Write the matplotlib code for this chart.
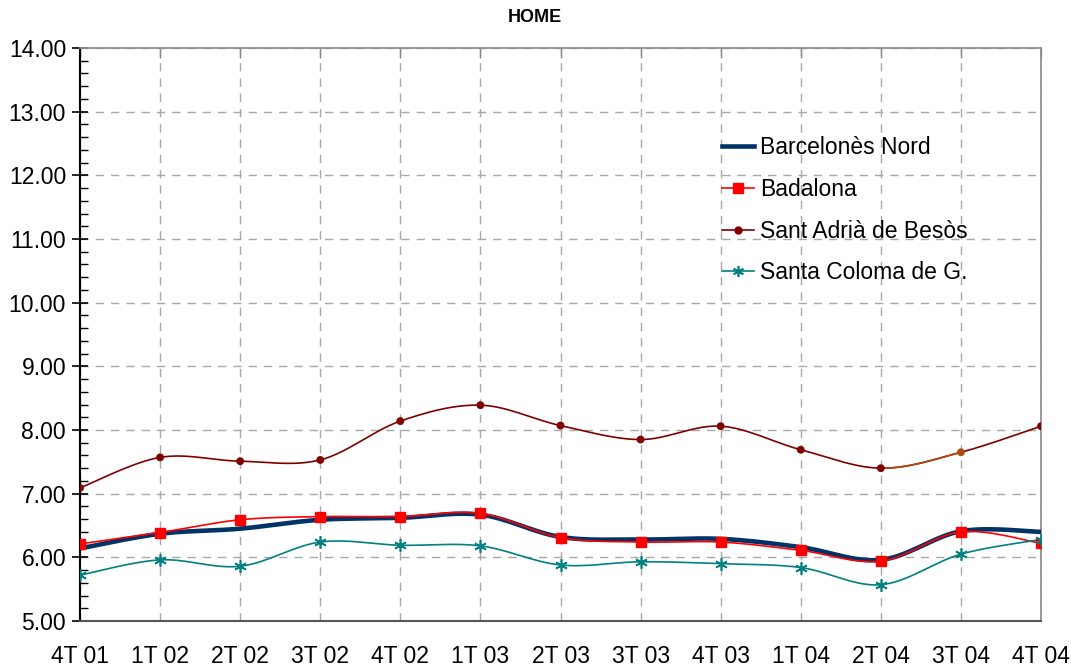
import numpy as np
import matplotlib
matplotlib.use("Agg")
import matplotlib.pyplot as plt
from matplotlib.ticker import MultipleLocator
from matplotlib.lines import Line2D

plt.rcParams['font.family'] = ['Liberation Sans', 'DejaVu Sans']

categories = ["4T 01", "1T 02", "2T 02", "3T 02", "4T 02", "1T 03", "2T 03",
              "3T 03", "4T 03", "1T 04", "2T 04", "3T 04", "4T 04"]
barcelones_nord = [6.14, 6.37, 6.45, 6.59, 6.62, 6.67, 6.32, 6.28, 6.29, 6.16, 5.96, 6.41, 6.40]
badalona = [6.21, 6.39, 6.59, 6.64, 6.64, 6.69, 6.31, 6.24, 6.24, 6.11, 5.94, 6.40, 6.22]
sant_adria = [7.09, 7.57, 7.51, 7.53, 8.14, 8.39, 8.07, 7.85, 8.06, 7.69, 7.40, 7.65, 8.06]
santa_coloma = [5.72, 5.96, 5.86, 6.24, 6.19, 6.18, 5.88, 5.93, 5.90, 5.84, 5.57, 6.05, 6.28]
series_labels = ["Barcelonès Nord", "Badalona", "Sant Adrià de Besòs", "Santa Coloma de G."]


def smooth(xs, ys, n=30):
    """Excel-like smoothed line: cubic Bezier segments (Catmull-Rom control points)."""
    p = np.column_stack([xs, ys]).astype(float)
    m = len(p)
    out = []
    for i in range(m - 1):
        p0 = p[i]
        p3 = p[i + 1]
        pm = p[i - 1] if i > 0 else p[i]
        pp = p[i + 2] if i + 2 < m else p[i + 1]
        c1 = p0 + (p3 - pm) / 6.0
        c2 = p3 - (pp - p0) / 6.0
        t = np.linspace(0, 1, n)[:, None]
        seg = ((1 - t) ** 3) * p0 + 3 * ((1 - t) ** 2) * t * c1 + 3 * (1 - t) * t ** 2 * c2 + t ** 3 * p3
        if i > 0:
            seg = seg[1:]
        out.append(seg)
    out = np.vstack(out)
    return out[:, 0], out[:, 1]


W, H = 1071, 668
FS = 16.5
fig = plt.figure(figsize=(W / 100, H / 100), dpi=100)
ax = fig.add_axes([80 / W, 1 - 621 / H, (1041 - 80) / W, (621 - 48) / H])

x = np.arange(len(categories))
n = 30

navy = "#003366"
red = "#ff0000"
adria_c = "#800000"
hl_c = "#b04a10"
teal = "#008080"

# Barcelonès Nord
sx, sy = smooth(x, barcelones_nord, n)
ax.plot(sx, sy, color=navy, lw=3.3, solid_capstyle="butt", zorder=3)

# Badalona
sx, sy = smooth(x, badalona, n)
ax.plot(sx, sy, color=red, lw=1.2, zorder=4)
ax.plot(x, badalona, ls="none", marker="s", ms=7.5, color=red, zorder=5)

# Sant Adrià de Besòs
sx, sy = smooth(x, sant_adria, n)
ax.plot(sx, sy, color=adria_c, lw=1.2, zorder=4)
seg_start = 10 * (n - 1)
seg_end = 11 * (n - 1)
ax.plot(sx[seg_start:seg_end + 1], sy[seg_start:seg_end + 1], color=hl_c, lw=1.2, zorder=4)
mcols = [adria_c] * len(x)
mcols[11] = hl_c
ax.scatter(x, sant_adria, s=32, c=mcols, marker="o", zorder=5, linewidths=0)

# Santa Coloma de G.
sx, sy = smooth(x, santa_coloma, n)
ax.plot(sx, sy, color=teal, lw=1.2, zorder=4)
ax.plot(x, santa_coloma, ls="none", marker=(6, 2, 0), ms=9, mew=1.2, color=teal, zorder=5)

handles = [
    Line2D([], [], color=navy, lw=3.3),
    Line2D([], [], color=red, lw=1.2, marker="s", ms=7),
    Line2D([], [], color=adria_c, lw=1.2, marker="o", ms=5),
    Line2D([], [], color=teal, lw=1.2, marker=(6, 2, 0), ms=8, mew=1.2),
]
ax.legend(handles, series_labels, loc="upper left", bbox_to_anchor=(722 / W, 1 - 136 / H),
          bbox_transform=fig.transFigure, frameon=False, fontsize=FS,
          handlelength=1.4, handletextpad=0.25, labelspacing=0.82, borderpad=0,
          borderaxespad=0)

ax.set_xlim(0, len(categories) - 1)
ax.set_ylim(5, 14)
ax.set_xticks(x)
ax.set_xticklabels(categories, fontsize=FS)
ax.yaxis.set_minor_locator(MultipleLocator(0.2))
ax.set_yticks(np.arange(5, 15))
ax.set_yticklabels([f"{v:.2f}" for v in np.arange(5, 15)], fontsize=FS)

ax.tick_params(axis="y", which="major", direction="inout", length=12, width=1.2, color="black", pad=4)
ax.tick_params(axis="y", which="minor", direction="in", length=6, width=1.0, color="black")
ax.tick_params(axis="x", which="major", direction="in", length=7, width=1.0, color="#888888",
               top=True, bottom=False, pad=17)

ax.grid(True, which="major", color="#a8a8a8", ls=(0, (6, 5)), lw=1.0)
ax.set_axisbelow(True)

for s in ("top", "right"):
    ax.spines[s].set_color("#909090")
    ax.spines[s].set_linewidth(1.3)
ax.spines["left"].set_color("black")
ax.spines["left"].set_linewidth(1.5)
ax.spines["bottom"].set_color("#555555")
ax.spines["bottom"].set_linewidth(1.5)

fig.text(535 / W, 1 - 18 / H, "HOME", ha="center", va="center", fontsize=13, fontweight="bold")

fig.savefig("out.png", dpi=100)
